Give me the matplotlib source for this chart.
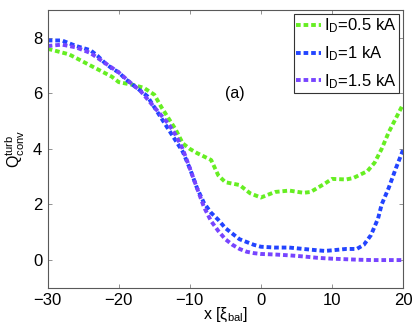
import matplotlib
matplotlib.use("Agg")
import matplotlib.pyplot as plt

plt.rcParams["font.family"] = ["Liberation Sans", "DejaVu Sans"]
plt.rcParams["mathtext.fontset"] = "custom"
plt.rcParams["mathtext.rm"] = "Liberation Sans"
plt.rcParams["mathtext.it"] = "Liberation Sans"

x_green = [-30, -27, -24, -21, -20, -18, -16.5, -15, -14, -13, -12, -11, -10, -9, -7, -6, -5, -3, -1.5,
           0, 2, 4, 6, 7, 9, 10, 12, 13, 15, 16, 17, 18, 19, 20]
q_green = [7.6, 7.4, 7.0, 6.6, 6.4, 6.3, 6.2, 5.95, 5.5, 5.1, 4.7, 4.2, 4.0, 3.85, 3.6, 3.05, 2.8, 2.7, 2.4,
           2.25, 2.45, 2.5, 2.42, 2.45, 2.75, 2.92, 2.9, 2.95, 3.2, 3.5, 4.0, 4.6, 5.1, 5.6]

x_blue = [-30, -28, -26, -24, -23, -22, -21, -20, -19, -18, -17, -16, -15, -14, -13, -12, -11, -10, -9,
          -8, -7, -6, -5, -4, -3, -2, -1, 0, 2, 4, 6, 8, 9, 10, 12, 13.5, 14.5, 15.5, 16.5, 17, 18, 19, 20]
q_blue = [7.9, 7.9, 7.7, 7.55, 7.35, 7.1, 6.9, 6.75, 6.5, 6.3, 6.1, 5.9, 5.5, 5.1, 4.7, 4.3, 3.9, 3.3, 2.6,
          2.05, 1.7, 1.45, 1.15, 0.95, 0.75, 0.65, 0.55, 0.48, 0.45, 0.45, 0.4, 0.35, 0.33, 0.35, 0.4, 0.4,
          0.55, 0.9, 1.5, 2.0, 2.6, 3.3, 3.95]

x_purple = [-30, -28, -26, -24, -22, -20, -18, -17, -16, -15, -14, -13, -12, -11, -10, -9, -8, -7, -6,
            -5, -4, -3, -2, -1, 0, 2, 4, 6, 8, 10, 12, 14, 16, 18, 20]
q_purple = [7.7, 7.75, 7.65, 7.45, 7.1, 6.75, 6.3, 6.1, 5.8, 5.5, 5.2, 4.9, 4.5, 4.0, 3.3, 2.6, 1.9, 1.4,
            1.05, 0.75, 0.55, 0.4, 0.3, 0.25, 0.22, 0.2, 0.17, 0.13, 0.08, 0.05, 0.03, 0.01, 0.0, 0.0, 0.0]

labels = ["I$_\\mathrm{D}$=0.5 kA", "I$_\\mathrm{D}$=1 kA", "I$_\\mathrm{D}$=1.5 kA"]
colors = ["#66ee22", "#2244ff", "#7744ff"]

fig = plt.figure(figsize=(4.15, 3.29), dpi=100)
ax = fig.add_axes([0.115, 0.125, 0.856, 0.845])

for xs, qs, lab, c in zip([x_green, x_blue, x_purple], [q_green, q_blue, q_purple], labels, colors):
    ax.plot(xs, qs, color=c, lw=2.8, dashes=(1.2, 0.75), label=lab)

ax.set_xlim(-30, 20)
ax.set_ylim(-1, 9)
ax.set_xticks([-30, -20, -10, 0, 10, 20])
ax.set_yticks([0, 2, 4, 6, 8])
ax.tick_params(direction="in", top=True, right=True, labelsize=12, length=3, width=0.5, color="0.4",
               pad=4)
for s in ax.spines.values():
    s.set_linewidth(0.8)
    s.set_color("0.35")

ax.set_xlabel(r"x [$\xi_\mathrm{bal}$]", fontsize=11.5, labelpad=-2)
ax.set_ylabel(r"Q$^\mathrm{turb}_\mathrm{conv}$", fontsize=11.5, labelpad=4)
ax.text(-3.7, 6.0, "(a)", fontsize=11.5, ha="center", va="center")

leg = ax.legend(loc="upper right", fontsize=12, handlelength=1.5, handletextpad=0.15,
                borderpad=0.15, labelspacing=0.55, fancybox=False, framealpha=1,
                borderaxespad=0.25)
leg.get_frame().set_edgecolor("0.2")
leg.get_frame().set_linewidth(0.8)

fig.savefig("out.png", dpi=100)
